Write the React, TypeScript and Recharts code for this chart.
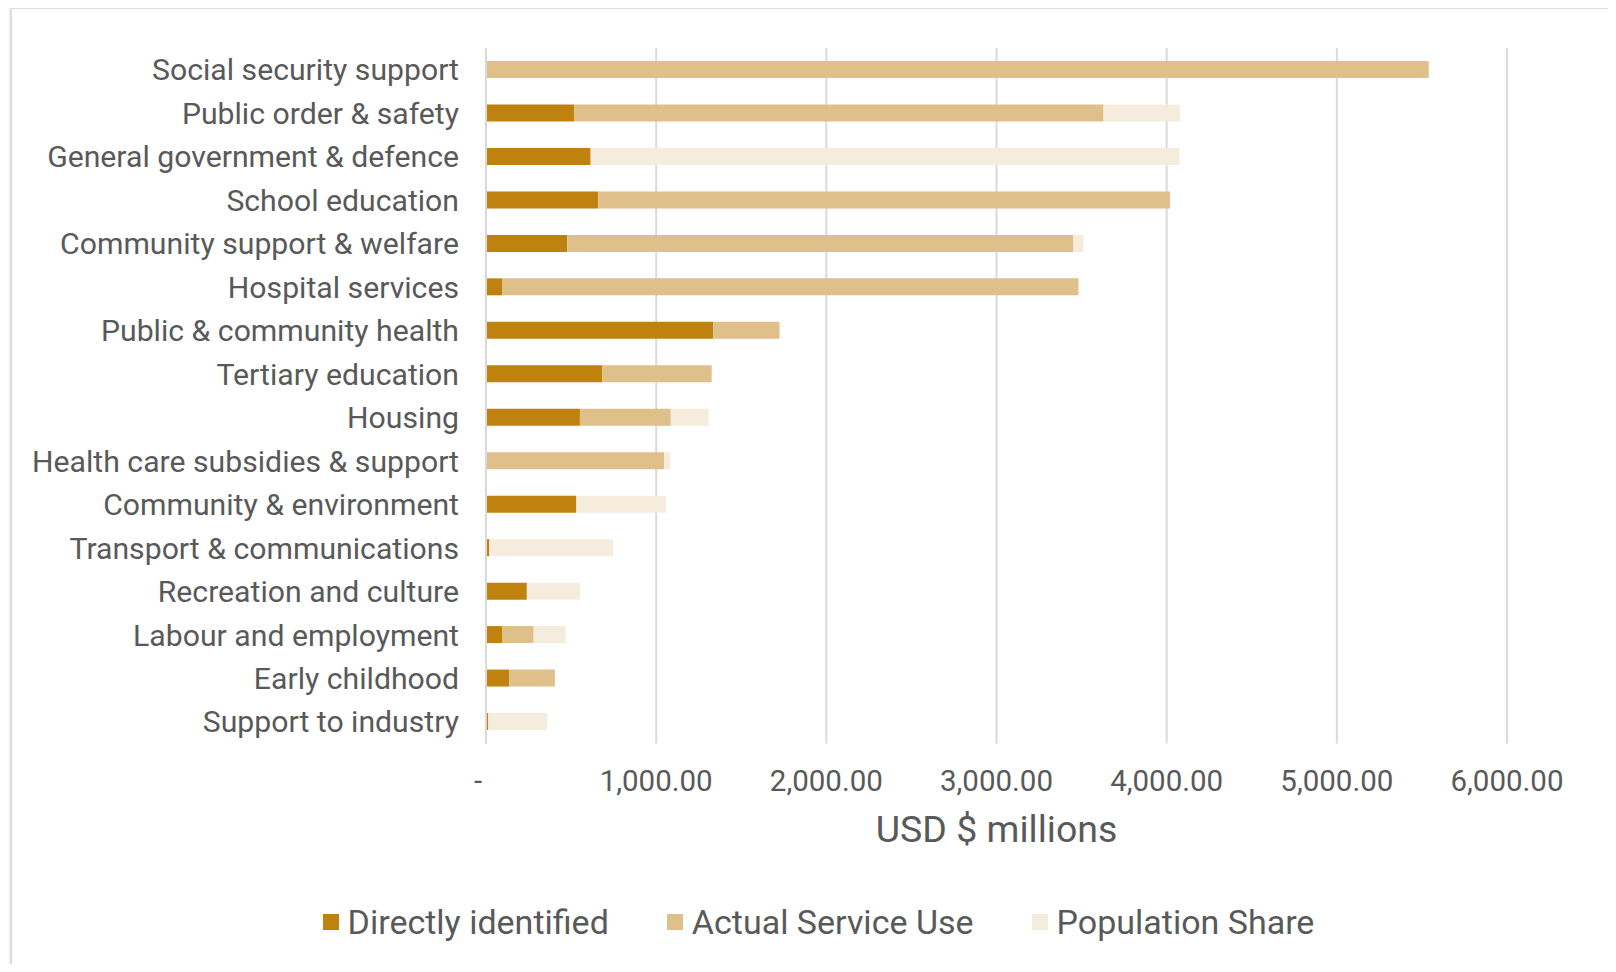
import React from 'react';
import { BarChart, Bar, XAxis, YAxis, CartesianGrid } from 'recharts';

const categories = [
  'Social security support',
  'Public order & safety',
  'General government & defence',
  'School education',
  'Community support & welfare',
  'Hospital services',
  'Public & community health',
  'Tertiary education',
  'Housing',
  'Health care subsidies & support',
  'Community & environment',
  'Transport & communications',
  'Recreation and culture',
  'Labour and employment',
  'Early childhood',
  'Support to industry',
];

const directlyIdentified = [0, 517, 615, 660, 478, 94, 1335, 684, 552, 0, 531, 20, 240, 94, 136, 13];
const actualServiceUse = [5540, 3112, 0, 3360, 2974, 3388, 390, 642, 534, 1047, 0, 0, 0, 186, 269, 0];
const populationShare = [0, 450, 3460, 0, 60, 0, 0, 0, 222, 36, 528, 728, 312, 188, 0, 348];

const xTicks = [0, 1000, 2000, 3000, 4000, 5000, 6000];
const xAxisTitle = 'USD $ millions';

const seriesKeys = ['directly', 'actual', 'population'];
const seriesNames = ['Directly identified', 'Actual Service Use', 'Population Share'];
const seriesColors = ['#BF820F', '#DFC08A', '#F5ECDD'];

const data = categories.map((name, i) => ({
  name,
  directly: directlyIdentified[i],
  actual: actualServiceUse[i],
  population: populationShare[i],
}));

const FONT = 'Roboto, "Noto Sans", sans-serif';
const TEXT = '#595959';

const fmt = (v: number) =>
  v === 0 ? '-' : v.toLocaleString('en-US', { minimumFractionDigits: 2, maximumFractionDigits: 2 });

const XTick = (props: any) => {
  const { x, y, payload } = props;
  const isZero = payload.value === 0;
  return (
    <text
      x={x + (isZero ? -8 : 0)}
      y={y}
      dy="0.71em"
      textAnchor="middle"
      fill={TEXT}
      fontFamily={FONT}
      fontSize={29.5}
    >
      {fmt(payload.value)}
    </text>
  );
};

export default function App() {
  return (
    <div style={{ position: 'relative', margin: -8, width: 1616, height: 972, overflow: 'hidden', background: '#fff' }}>
      <div
        style={{
          position: 'absolute',
          left: 10,
          top: 7,
          width: 1600,
          height: 1000,
          border: '2px solid #DCDCDC',
          boxShadow: '0 0 3px rgba(0,0,0,0.12)',
          boxSizing: 'border-box',
        }}
      />
      <div style={{ position: 'absolute', left: 0, top: 0 }}>
        <BarChart
          width={1616}
          height={972}
          data={data}
          layout="vertical"
          margin={{ top: 48, right: 109, bottom: 130, left: 16 }}
          barSize={17}
        >
          <CartesianGrid horizontal={false} stroke="#DADADA" strokeWidth={2} />
          <XAxis
            type="number"
            domain={[0, 6000]}
            ticks={xTicks}
            axisLine={false}
            tickLine={false}
            tickSize={0}
            tickMargin={26.5}
            height={98.5}
            tick={<XTick />}
            interval={0}
            label={{
              value: xAxisTitle,
              position: 'insideBottom',
              offset: 0,
              fill: TEXT,
              fontSize: 37.5,
              fontFamily: FONT,
            }}
          />
          <YAxis
            type="category"
            dataKey="name"
            width={470}
            axisLine={{ stroke: '#D9D9D9', strokeWidth: 2 }}
            tickLine={false}
            tickSize={0}
            tickMargin={27}
            interval={0}
            tick={{ fill: TEXT, fontSize: 30.2, fontFamily: FONT }}
          />
          {seriesKeys.map((k, i) => (
            <Bar
              key={k}
              dataKey={k}
              name={seriesNames[i]}
              stackId="s"
              fill={seriesColors[i]}
              isAnimationActive={false}
            />
          ))}
        </BarChart>
      </div>
      <div
        style={{
          position: 'absolute',
          left: 18,
          width: 1601,
          top: 900,
          height: 44,
          display: 'flex',
          justifyContent: 'center',
          alignItems: 'center',
          gap: 58,
          fontFamily: FONT,
          fontSize: 34,
          color: TEXT,
        }}
      >
        {seriesNames.map((n, i) => (
          <div key={n} style={{ display: 'flex', alignItems: 'center' }}>
            <span style={{ display: 'inline-block', width: 16, height: 16, background: seriesColors[i], marginRight: 9 }} />
            <span>{n}</span>
          </div>
        ))}
      </div>
    </div>
  );
}
